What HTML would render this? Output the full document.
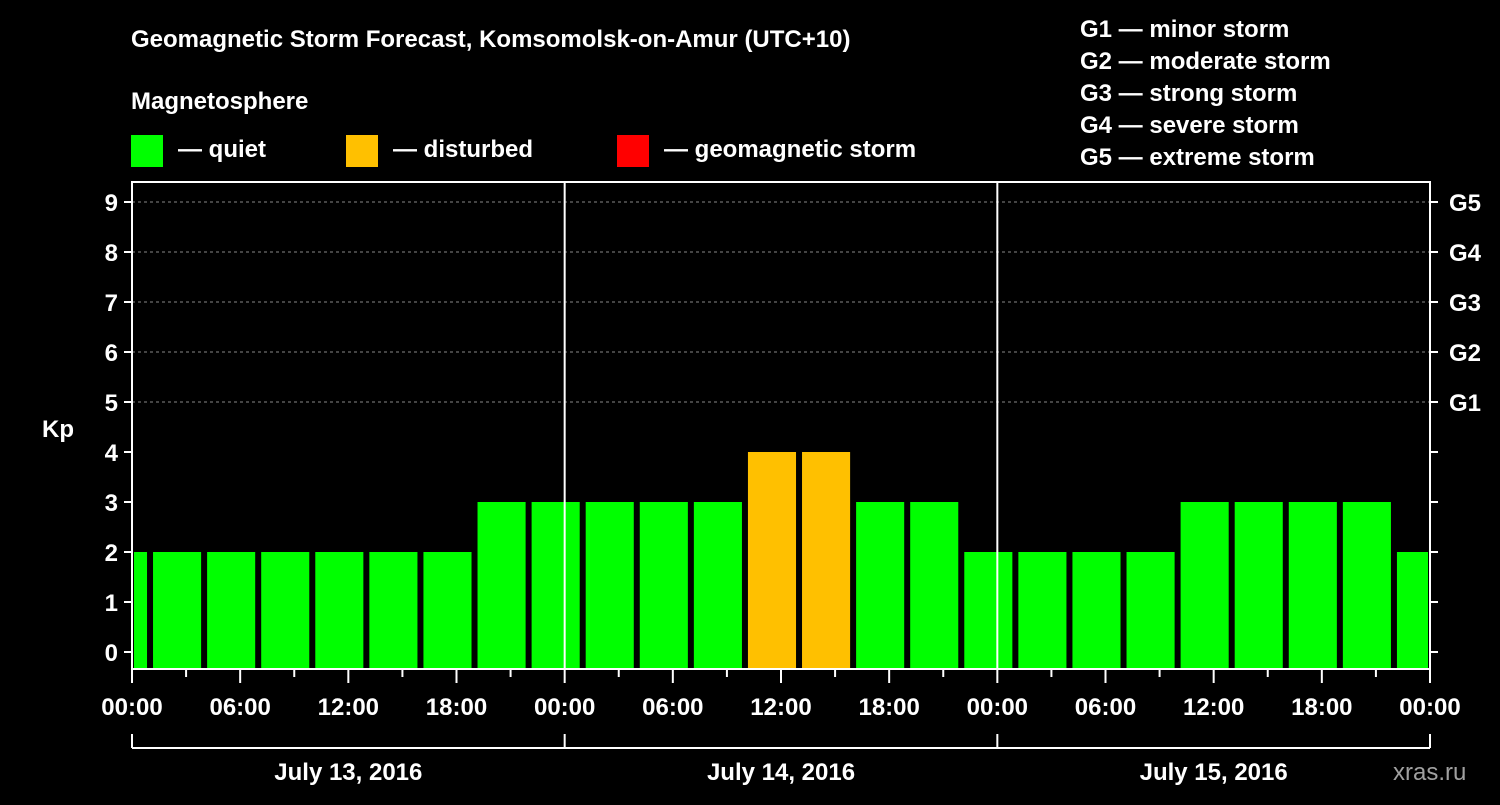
<!DOCTYPE html>
<html><head><meta charset="utf-8"><style>
body{margin:0;background:#000;width:1500px;height:800px;overflow:hidden}
svg text{font-family:"Liberation Sans",Arial,sans-serif;font-weight:bold;fill:#fff}
</style></head><body>
<svg id="c" width="1500" height="800" xmlns="http://www.w3.org/2000/svg">
<text x="131" y="47" font-size="24">Geomagnetic Storm Forecast, Komsomolsk-on-Amur (UTC+10)</text>
<text x="131" y="109" font-size="24">Magnetosphere</text>
<rect x="131" y="135" width="32" height="32" fill="#00ff00"/>
<text x="178" y="157" font-size="24">— quiet</text>
<rect x="346" y="135" width="32" height="32" fill="#ffc000"/>
<text x="393" y="157" font-size="24">— disturbed</text>
<rect x="617" y="135" width="32" height="32" fill="#ff0000"/>
<text x="664" y="157" font-size="24">— geomagnetic storm</text>
<g font-size="24">
<text x="1080" y="37">G1 — minor storm</text>
<text x="1080" y="69">G2 — moderate storm</text>
<text x="1080" y="101">G3 — strong storm</text>
<text x="1080" y="133">G4 — severe storm</text>
<text x="1080" y="165">G5 — extreme storm</text>
</g>
<text x="42" y="437" font-size="24">Kp</text>
<text x="1393" y="780" font-size="24" fill="#aaa" style="fill:#a0a0a0;font-weight:normal">xras.ru</text>
<g id="plot"></g>
</svg>
<script>
const kpValues=[2,2,2,2,2,2,2,3,3,3,3,3,4,4,3,3,2,2,2,2,3,3,3,3,2];
const kpTicks=[0,1,2,3,4,5,6,7,8,9];
const gLabels=["G1","G2","G3","G4","G5"];
const hourLabels=["00:00","06:00","12:00","18:00"];
const dayLabels=["July 13, 2016","July 14, 2016","July 15, 2016"];
const startOffsetHours=-2; // first bin starts at 22:00 of the previous day
const NS="http://www.w3.org/2000/svg";
const L=132,R=1430,T=182,B=669;
const x=h=>L+h*(R-L)/72;
const y=v=>652-v*50;
const g=document.getElementById('plot');
function mk(tag,a){const e=document.createElementNS(NS,tag);for(const k in a)e.setAttribute(k,a[k]);g.appendChild(e);return e;}
// gridlines
kpTicks.forEach(v=>{
  if(v>=5){const l=mk('line',{x1:L,x2:R,y1:y(v),y2:y(v),stroke:'#888','stroke-dasharray':'3,3','stroke-width':1});
  
  }
  const t=mk('line',{x1:L-8,x2:L,y1:y(v),y2:y(v),stroke:'#fff','stroke-width':2});
  
  
  const t2=mk('line',{x1:R,x2:R+8,y1:y(v),y2:y(v),stroke:'#fff','stroke-width':2});
  
  
  const tx=mk('text',{x:L-14,y:y(v)+9,'font-size':24,'text-anchor':'end'});tx.textContent=v;
  
  
});
gLabels.forEach((s,i)=>{
  const tx=mk('text',{x:R+19,y:y(5+i)+9,'font-size':24});tx.textContent=s;
  
  
});
// bars
kpValues.forEach((v,i)=>{
  let h0=startOffsetHours+i*3,h1=h0+3;
  let x0=Math.max(x(h0)+3,x(0)+2),x1=Math.min(x(h1)-3,x(72)-2);
  const col=v>=5?'#ff0000':v>=4?'#ffc000':'#00ff00';
  const r=mk('rect',{x:x0,y:y(v),width:x1-x0,height:B-y(v),fill:col});
  
  
});
// day dividers
[1,2].forEach(d=>{const l=mk('line',{x1:x(d*24),x2:x(d*24),y1:T,y2:B,stroke:'#fff','stroke-width':2});
  
  });
// frame
const f=mk('rect',{x:L,y:T,width:R-L,height:B-T,fill:'none',stroke:'#fff','stroke-width':2});


// x ticks
for(let h=0;h<=72;h+=3){
  const maj=h%6===0;
  const l=mk('line',{x1:x(h),x2:x(h),y1:B,y2:B+(maj?14:8),stroke:'#fff','stroke-width':2});
  
  
  if(maj){const t=mk('text',{x:x(h),y:B+46,'font-size':24,'text-anchor':'middle'});
    t.textContent=hourLabels[(h%24)/6];
    
    }
}
// day brackets
const br=mk('line',{x1:x(0),x2:x(72),y1:748,y2:748,stroke:'#fff','stroke-width':2});


for(let d=0;d<=3;d++){const l=mk('line',{x1:x(d*24),x2:x(d*24),y1:734,y2:748,stroke:'#fff','stroke-width':2});
  
  }
dayLabels.forEach((s,d)=>{const t=mk('text',{x:x(d*24+12),y:780,'font-size':24,'text-anchor':'middle'});t.textContent=s;
  
  });
</script>
</body></html>
